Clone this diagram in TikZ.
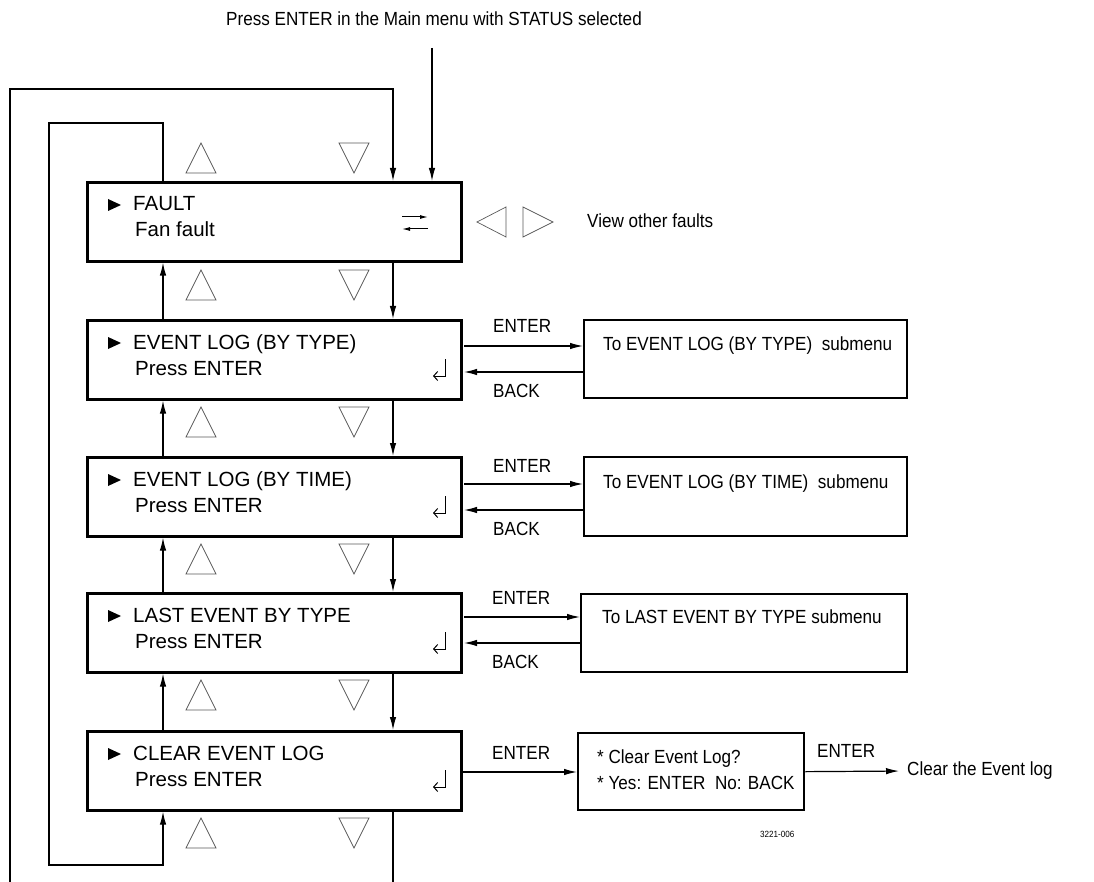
\documentclass[tikz,border=0pt]{standalone}
\usepackage{fontspec}
\setmainfont{Liberation Sans}
\newfontfamily\narrowf[FakeStretch=0.9]{Liberation Sans}
\usetikzlibrary{arrows.meta,calc}
\begin{document}
\begin{tikzpicture}[x=1pt,y=-1pt,
  mainbox/.style={draw,line width=2.6pt,minimum width=374pt,minimum height=79pt,inner sep=0pt,anchor=north west},
  subbox/.style={draw,line width=2.3pt,inner sep=0pt,anchor=north west,minimum height=78pt},
  ln/.style={line width=1.2pt},
  arr/.style={ln,-{Latex[length=13pt,width=6.5pt]}},
  tri/.style={draw=black!65,line width=0.7pt},
  mtext/.style={anchor=base west,inner sep=0pt,font=\fontsize{20.5}{24}\selectfont},
  stext/.style={anchor=base west,inner sep=0pt,font=\narrowf\fontsize{19}{22}\selectfont},
  marker/.style={fill=black},
]
\useasboundingbox (0,0) rectangle (1094,882);

% main boxes
\node[mainbox] (b1) at (86,181) {};
\node[mainbox] (b2) at (86,319) {};
\node[mainbox] (b3) at (86,456) {};
\node[mainbox] (b4) at (86,592) {};
\node[mainbox] (b5) at (86,730) {};

% texts in main boxes
\foreach \T/\la/\lb [count=\i] in {181/FAULT/Fan fault,319/EVENT LOG (BY TYPE)/Press ENTER,456/EVENT LOG (BY TIME)/Press ENTER,592/LAST EVENT BY TYPE/Press ENTER,730/CLEAR EVENT LOG/Press ENTER}{
  \fill[marker] (108,\T+18) -- (121,\T+24) -- (108,\T+30) -- cycle;
  \node[mtext] (ta\i) at (133,\T+30) {\la};
  \node[mtext] (tb\i) at (135,\T+56) {\lb};
}
% return symbols
\foreach \T in {319,456,592,730}{
  \draw[line width=1pt,-{Straight Barb[length=4pt,width=9pt]}] (445,\T+40) -- (445,\T+57) -- (433,\T+57);
}
% swap symbol in FAULT
\draw[line width=1pt,-{Latex[length=8pt,width=4pt]}] (402,217) -- (428,217);
\draw[line width=1pt,-{Latex[length=8pt,width=4pt]}] (428,229) -- (402,229);

% up/down triangles
\foreach \y in {143,270,407,544,680,818}{
  \draw[tri] (186,\y+30) -- (201,\y) -- (216,\y+30) -- cycle;
  \draw[tri] (339,\y) -- (369,\y) -- (354,\y+30) -- cycle;
}
% left/right triangles
\draw[tri] (506,207) -- (477,222) -- (506,237) -- cycle;
\draw[tri] (523,207) -- (553,222) -- (523,237) -- cycle;
\node[stext] (view) at (587,228) {View other faults};

% top entry
\node[stext] (top) at (226,26) {Press ENTER in the Main menu with STATUS selected};
\coordinate (entry) at (432,48);
\draw[arr] (entry) -- (entry |- b1.north);

% outer loop
\coordinate (o1) at (10,882);
\coordinate (o2) at (10,89);
\coordinate (o3) at (393,89);
\coordinate (o4) at (393,882);
\draw[arr] (o1) -- (o2) -- (o3) -- (o3 |- b1.north);
\draw[ln] (o4 |- b5.south) -- (o4);

% inner loop
\coordinate (i1) at (163,123);
\coordinate (i2) at (49,123);
\coordinate (i3) at (49,865);
\coordinate (i4) at (163,865);
\draw[arr] (i1 |- b1.north) -- (i1) -- (i2) -- (i3) -- (i4) -- (i4 |- b5.south);

% between boxes
\foreach \a/\b in {b1/b2,b2/b3,b3/b4,b4/b5}{
  \draw[arr] (\b.north -| i1) -- (\a.south -| i1);
  \draw[arr] (\a.south -| o3) -- (\b.north -| o3);
}

% submenu boxes
\node[subbox,minimum width=323pt] (r1) at (583,319) {};
\node[subbox,minimum width=323pt,minimum height=79pt] (r2) at (583,456) {};
\node[subbox,minimum width=326pt] (r3) at (580,593) {};
\node[subbox,minimum width=226pt,minimum height=77pt] (cb) at (577,732) {};
\node[stext] (rt1) at (603,350) {To EVENT LOG (BY TYPE)\ \ submenu};
\node[stext] (rt2) at (603,488) {To EVENT LOG (BY TIME)\ \ submenu};
\node[stext] (rt3) at (602,623) {To LAST EVENT BY TYPE submenu};
\node[stext] (ct1) at (597,763) {* Clear Event Log?};
\node[stext] (ct2) at (597,789) {* Yes: ENTER\ \ No: BACK};

% ENTER / BACK connectors
\coordinate (e1) at (464,346); \coordinate (k1) at (464,372);
\coordinate (e2) at (464,484); \coordinate (k2) at (464,510);
\coordinate (e3) at (464,617); \coordinate (k3) at (464,643);
\coordinate (e4) at (463,772);
\draw[arr] (e1) -- (e1 -| r1.west);
\draw[arr] (k1 -| r1.west) -- (k1);
\draw[arr] (e2) -- (e2 -| r2.west);
\draw[arr] (k2 -| r2.west) -- (k2);
\draw[arr] (e3) -- (e3 -| r3.west);
\draw[arr] (k3 -| r3.west) -- (k3);
\draw[arr] (e4) -- (e4 -| cb.west);
\node[stext] (le1) at (493,333) {ENTER};
\node[stext] (lk1) at (493,397) {BACK};
\node[stext] (le2) at (493,472) {ENTER};
\node[stext] (lk2) at (493,535) {BACK};
\node[stext] (le3) at (492,604) {ENTER};
\node[stext] (lk3) at (492,668) {BACK};
\node[stext] (le4) at (492,759) {ENTER};

% final action
\node[stext,anchor=west] (clr) at (907,771) {Clear the Event log};
\draw[arr,shorten >=8pt] (cb.east) -- (clr.west);
\node[stext] (le5) at (817,757) {ENTER};
\node[anchor=base west,inner sep=0pt,font=\narrowf\fontsize{9}{10}\selectfont] (fig) at (760,837) {3221-006};
\end{tikzpicture}
\end{document}
